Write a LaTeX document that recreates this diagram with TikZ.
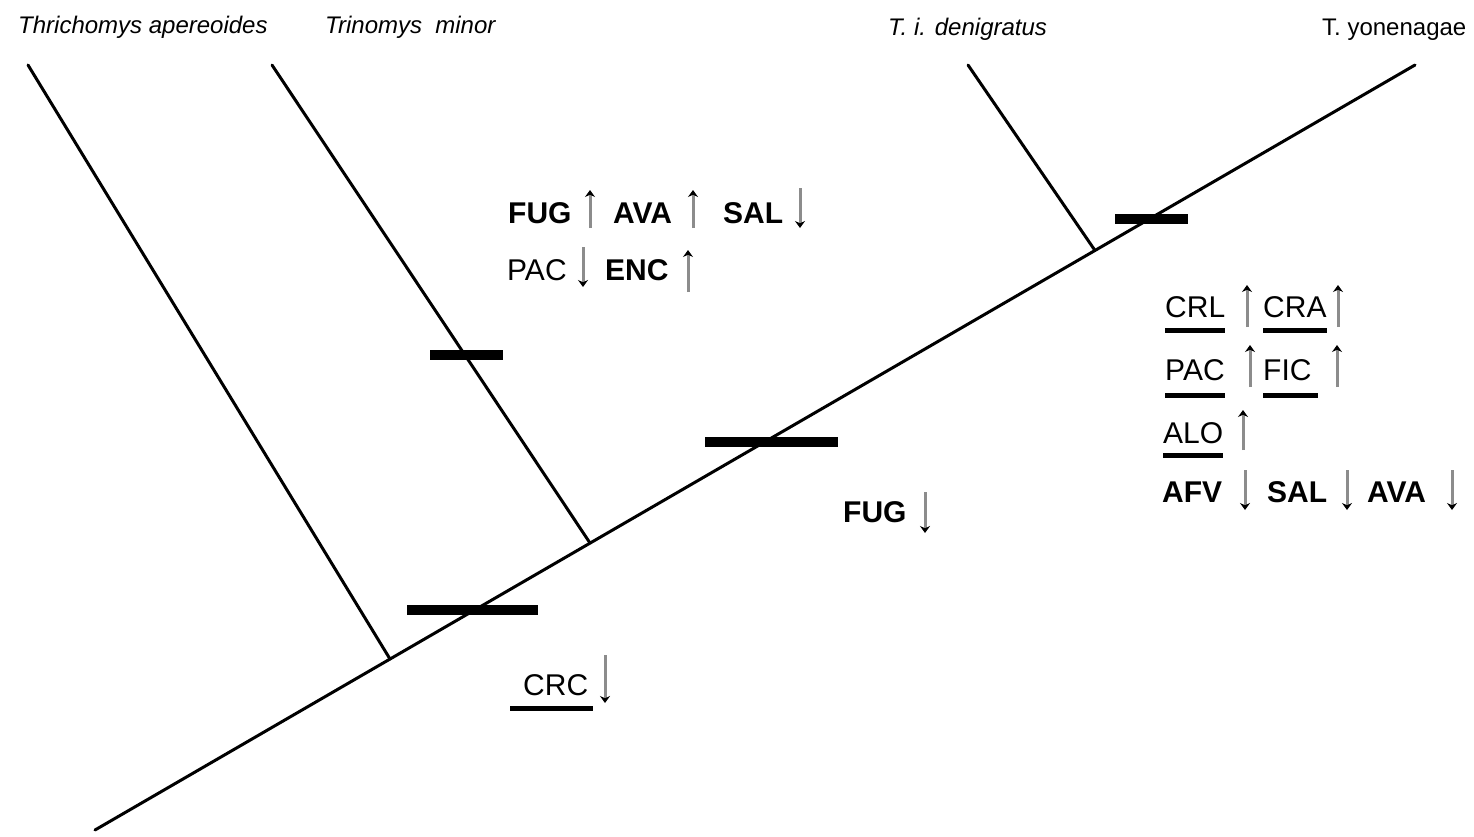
\documentclass[tikz,border=0pt]{standalone}
\usepackage{fontspec}
\setmainfont{Liberation Sans}
\usetikzlibrary{arrows.meta}
\tikzset{
  branch/.style={line width=3pt, line cap=round},
  bar/.style={line width=10pt},
  ul/.style={line width=5pt},
  sp/.style={inner sep=0pt, anchor=base west, font=\fontsize{24}{26}\selectfont\itshape},
  spup/.style={inner sep=0pt, anchor=base west, font=\fontsize{24}{26}\selectfont},
  lb/.style={inner sep=0pt, anchor=base west, font=\fontsize{30}{32}\selectfont\bfseries},
  lr/.style={inner sep=0pt, anchor=base west, font=\fontsize{30}{32}\selectfont},
  chg/.style={draw=black!45, line width=3pt, -{Stealth[black, length=7pt, width=10pt]}}
}
\begin{document}
\begin{tikzpicture}[x=1pt, y=-1pt]
\useasboundingbox (0,0) rectangle (1474,836);
% tree coordinates
\coordinate (root) at (95,830);
\coordinate (j1) at (390,659);
\coordinate (j2) at (590,543);
\coordinate (j3) at (1095,250.5);
\coordinate (tA) at (28,65);
\coordinate (tB) at (272,65);
\coordinate (tC) at (968,65);
\coordinate (tD) at (1415,65);
% branches
\draw[branch] (root) -- (tD);
\draw[branch] (j1) -- (tA);
\draw[branch] (j2) -- (tB);
\draw[branch] (j3) -- (tC);
% bars
\draw[bar] (430,355) -- (503,355);
\draw[bar] (705,442) -- (838,442);
\draw[bar] (407,610) -- (538,610);
\draw[bar] (1115,219) -- (1188,219);
% species labels
\node[sp] (lA) at (18,33) {Thrichomys apereoides};
\node[sp] (lB) at (325,33) {Trinomys\ \ minor};
\node[sp] (lC) at (888,35) {T. i. denigratus};
\node[spup] (lD) at (1322,35) {T. yonenagae};
% upper middle block
\node[lb] (fug1) at (508,223) {FUG};
\draw[chg] (590,228) -- (590,190);
\node[lb] (ava1) at (613,223) {AVA};
\draw[chg] (693,228) -- (693,190);
\node[lb] (sal1) at (723,223) {SAL};
\draw[chg] (800,188) -- (800,228);
\node[lr] (pac1) at (507,280) {PAC};
\draw[chg] (583,247) -- (583,287);
\node[lb] (enc1) at (605,280) {ENC};
\draw[chg] (688,292) -- (688,250);
% FUG down
\node[lb] (fug2) at (843,522) {FUG};
\draw[chg] (925,492) -- (925,533);
% CRC
\node[lr] (crc) at (523,695) {CRC};
\draw[ul] (510,708) -- (593,708);
\draw[chg] (605,655) -- (605,703);
% right block
\node[lr] (crl) at (1165,317) {CRL};
\draw[ul] ([yshift=-13pt]crl.base west) -- ([yshift=-13pt]crl.base east);
\draw[chg] (1247,327) -- (1247,285);
\node[lr] (cra) at (1263,317) {CRA};
\draw[ul] ([yshift=-13pt]cra.base west) -- ([yshift=-13pt]cra.base east);
\draw[chg] (1338,327) -- (1338,285);
\node[lr] (pac2) at (1165,380) {PAC};
\draw[ul] ([yshift=-15pt]pac2.base west) -- ([yshift=-15pt]pac2.base east);
\draw[chg] (1250,387) -- (1250,345);
\node[lr] (fic) at (1263,380) {FIC};
\draw[ul] ([yshift=-15pt]fic.base west) -- ([yshift=-15pt,xshift=6pt]fic.base east);
\draw[chg] (1337,387) -- (1337,345);
\node[lr] (alo) at (1163,443) {ALO};
\draw[ul] ([yshift=-12pt]alo.base west) -- ([yshift=-12pt]alo.base east);
\draw[chg] (1243,450) -- (1243,410);
\node[lb] (afv) at (1162,502) {AFV};
\draw[chg] (1245,470) -- (1245,510);
\node[lb] (sal2) at (1267,502) {SAL};
\draw[chg] (1347,470) -- (1347,510);
\node[lb] (ava2) at (1367,502) {AVA};
\draw[chg] (1452,470) -- (1452,510);
\end{tikzpicture}
\end{document}
